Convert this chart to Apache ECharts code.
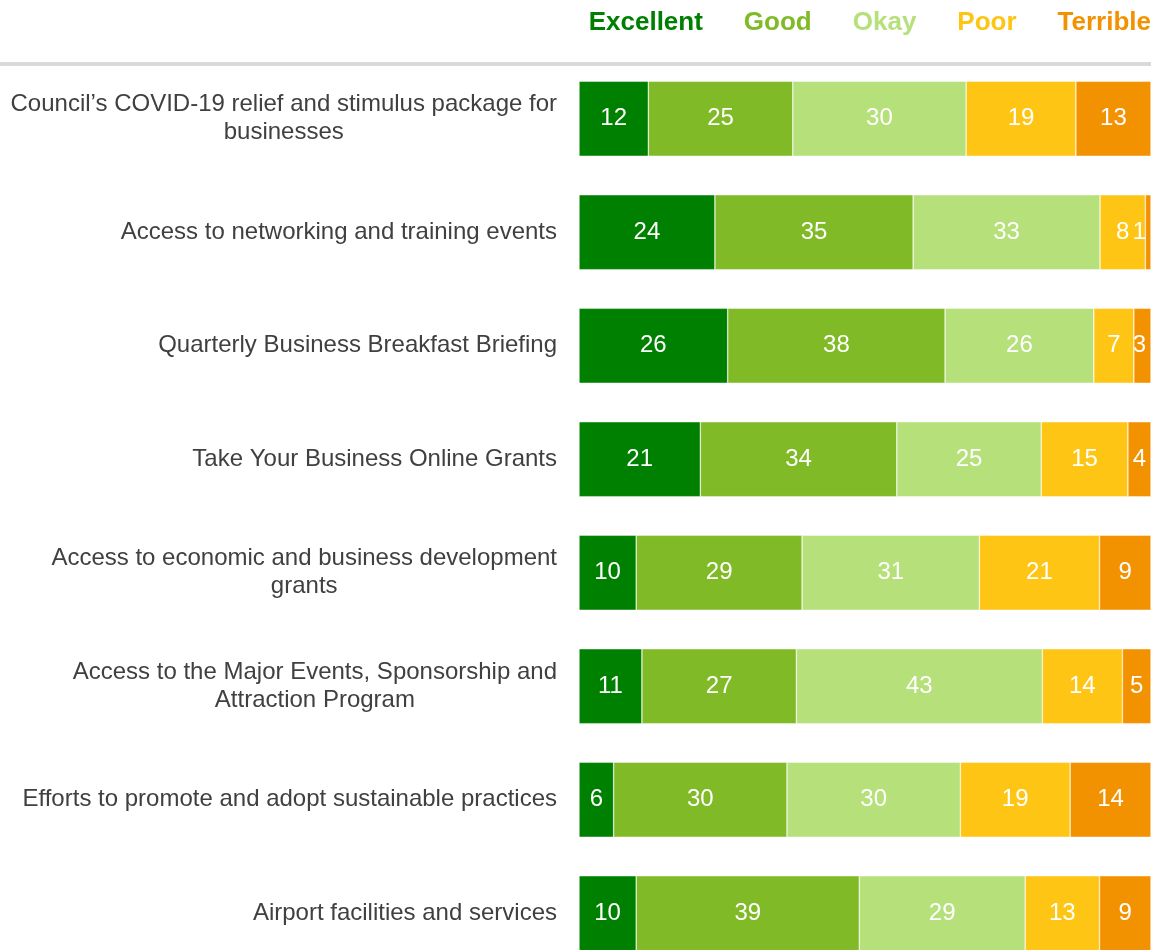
<!DOCTYPE html>
<html>
<head>
<meta charset="utf-8">
<script src="https://cdn.jsdelivr.net/npm/echarts@6/dist/echarts.min.js"></script>
<style>
  html, body { margin: 0; padding: 0; background: #fff; }
  #chart { width: 1151px; height: 950px; }
</style>
</head>
<body>
<div id="chart"></div>
<script>
// rows of the survey, top to bottom
const categories = [
  'Council\u2019s COVID-19 relief and stimulus package for\nbusinesses',
  'Access to networking and training events',
  'Quarterly Business Breakfast Briefing',
  'Take Your Business Online Grants',
  'Access to economic and business development\ngrants',
  'Access to the Major Events, Sponsorship and\nAttraction Program',
  'Efforts to promote and adopt sustainable practices',
  'Airport facilities and services'
];

const ratings = ['Excellent', 'Good', 'Okay', 'Poor', 'Terrible'];
const colors = ['#008000', '#80ba27', '#b6e07a', '#fec514', '#f39200'];

// percentages shown on the bars
const excellent = [12, 24, 26, 21, 10, 11, 6, 10];
const good      = [25, 35, 38, 34, 29, 27, 30, 39];
const okay      = [30, 33, 26, 25, 31, 43, 30, 29];
const poor      = [19, 8, 7, 15, 21, 14, 19, 13];
const terrible  = [13, 1, 3, 4, 9, 5, 14, 9];

const seriesValues = [excellent, good, okay, poor, terrible];

// rounded numbers don't always add to 100, so scale each row to full width
const rowTotals = categories.map((c, i) => seriesValues.reduce((s, arr) => s + arr[i], 0));

const chart = echarts.init(document.getElementById('chart'));
const W = 1151;
const font = '"Liberation Sans", Arial, sans-serif';

const option = {
  backgroundColor: '#fff',
  animation: false,
  textStyle: { fontFamily: font },
  legend: {
    right: 0,
    top: 10,
    padding: 0,
    itemWidth: 0,
    itemHeight: 0,
    itemGap: 35,
    icon: 'rect',
    selectedMode: false,
    data: ratings.map((name, i) => ({
      name: name,
      textStyle: { color: colors[i], fontSize: 26, fontWeight: 'bold', fontFamily: font }
    }))
  },
  graphic: [{
    type: 'rect',
    left: 0,
    top: 62,
    shape: { width: W, height: 4 },
    style: { fill: '#d9d9d9' },
    silent: true
  }],
  // bars sit on the ticks, first row centre to last row centre
  grid: { left: 579, right: 0, top: 118.75, height: 794.5 },
  xAxis: { type: 'value', min: 0, max: 100, show: false },
  yAxis: {
    type: 'category',
    inverse: true,
    boundaryGap: false,
    data: categories,
    axisLine: { show: false },
    axisTick: { show: false },
    splitLine: { show: false },
    axisLabel: {
      margin: 22,
      align: 'right',
      formatter: v => v.split('\n').map(s => '{c|' + s + '}').join('\n'),
      rich: {
        c: { align: 'center', fontSize: 24, lineHeight: 28, color: '#404040', fontFamily: font }
      }
    }
  },
  series: ratings.map((name, k) => ({
    name: name,
    type: 'bar',
    stack: 'total',
    barWidth: 75,
    itemStyle: { color: colors[k], borderColor: 'rgba(255,255,255,0.7)', borderWidth: 0.6 },
    label: {
      show: true,
      position: 'inside',
      padding: [4, 0, 0, 0],
      color: '#fff',
      fontSize: 24,
      fontFamily: font,
      formatter: p => seriesValues[k][p.dataIndex]
    },
    labelLayout: function (p) {
      const r = p.labelRect;
      if (r.x + r.width > W - 4) {
        return { x: W - 5, y: r.y + r.height / 2, align: 'right', verticalAlign: 'middle' };
      }
      return {};
    },
    data: seriesValues[k].map((v, i) => v / rowTotals[i] * 100)
  }))
};

chart.setOption(option);
</script>
</body>
</html>
